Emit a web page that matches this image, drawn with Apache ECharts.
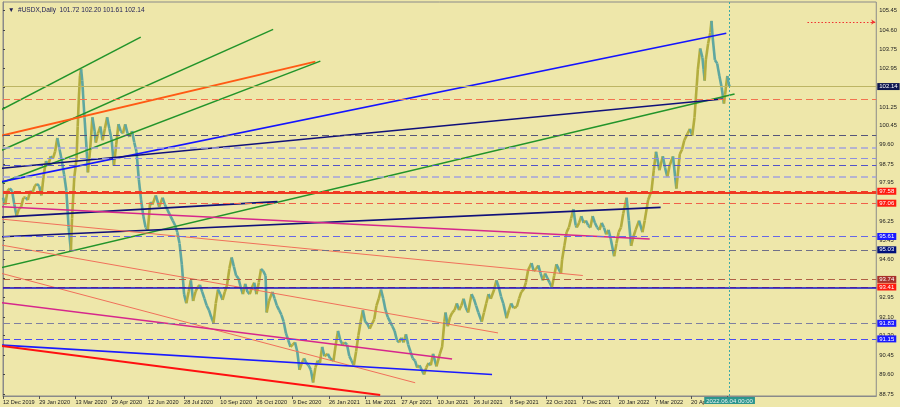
<!DOCTYPE html>
<html>
<head>
<meta charset="utf-8">
<script src="https://cdn.jsdelivr.net/npm/echarts@6/dist/echarts.min.js"></script>
<style>
  html, body { margin: 0; padding: 0; background: #eee7aa; }
  #chart { width: 900px; height: 407px; }
</style>
</head>
<body>
<div id="chart"></div>
<script>
// ---------------- DATA ----------------
const symbolName = '#USDX,Daily';
const headerOHLC = ['101.72', '102.20', '101.61', '102.14'];

// bar index (trading days from 12 Dec 2019) for each time label
const dateLabels = ['12 Dec 2019','29 Jan 2020','13 Mar 2020','29 Apr 2020','12 Jun 2020','28 Jul 2020',
  '10 Sep 2020','26 Oct 2020','9 Dec 2020','26 Jan 2021','11 Mar 2021','27 Apr 2021','10 Jun 2021',
  '26 Jul 2021','8 Sep 2021','22 Oct 2021','7 Dec 2021','20 Jan 2022','7 Mar 2022','20 Apr 2022'];
const barsPerLabel = 32;

const yTickLabels = ['88.75','89.60','90.45','91.30','92.10','92.95','93.80','94.60','95.45','96.25',
  '97.10','97.95','98.75','99.60','100.45','101.25','102.10','102.95','103.75','104.60','105.45'];

// price path: bar index and value
const priceIdx = [0,2,4,6,8,10,12,14,16,18,20,22,24,26,28,30,32,34,36,38,40,42,44,46,48,50,52,54,56,58,60,61,63,65,66,67,68,69,70,71,72,74,75,77,79,81,82,84,86,88,90,92,94,96,98,100,102,104,106,108,110,112,114,116,118,120,122,124,126,128,130,132,135,138,141,143,145,148,150,152,154,156,158,160,162,164,166,168,170,172,174,176,178,180,182,184,186,188,190,192,194,196,198,200,202,204,206,208,210,212,214,216,218,220,222,224,226,228,230,232,233,235,238,240,242,244,246,248,250,252,254,256,258,260,262,264,266,268,270,272,274,276,278,280,282,284,287,289,292,294,296,298,300,302,304,306,308,310,312,314,316,318,320,322,324,326,328,330,332,334,336,338,340,342,344,346,348,350,352,354,356,358,360,362,364,366,368,370,372,374,376,378,380,383,386,388,390,391,393,395,397,399,401,403,405,407,409,411,414,416,418,420,423,425,427,429,431,434,436,438,440,442,445,447,449,451,454,456,458,460,462,464,467,469,471,473,475,477,479,481,483,485,487,489,491,493,494,496,498,500,502,504,506,507,509,511,513,515,517,519,521,523,525,527,529,531,533,535,537,539,540,542,544,546,548,551,553,555,557,559,562,565,567,570,573,575,577,580,583,585,587,589,592,595,598,600,602,605,607,609,611,612,613,614,616,618,619,620,621,623,625,626,627,629,631,633,635,637,638,640,641,642];
const priceVal = [97.3,97.0,97.6,97.7,97.6,97.0,96.5,96.8,96.9,97.3,97.3,97.2,97.6,97.5,97.8,97.9,97.8,97.4,98.3,98.9,98.7,99.1,99.0,99.3,99.9,99.4,98.9,98.3,97.6,96.0,95.0,96.4,98.2,99.0,100.4,101.6,102.6,102.9,102.4,101.6,100.8,99.3,98.4,99.4,100.8,100.2,99.7,100.1,100.4,99.8,100.3,100.8,100.3,99.8,98.7,99.6,100.5,100.2,100.1,100.5,100.1,99.95,100.2,99.7,99.3,98.1,97.2,96.5,96.0,95.9,97.1,97.0,97.4,96.9,97.3,97.0,96.8,96.5,96.3,96.1,95.8,95.3,94.4,93.1,92.7,93.2,93.7,92.8,93.2,93.4,93.5,93.2,92.9,92.6,92.4,92.1,91.85,92.7,93.3,93.1,92.85,93.2,93.5,94.2,94.7,94.3,93.9,93.8,93.4,93.1,93.55,93.2,93.1,93.4,93.6,93.1,93.6,94.2,94.1,93.9,92.3,92.8,93.2,92.9,92.6,92.4,92.2,91.9,91.4,91.1,90.8,90.9,91.0,90.6,89.8,90.1,90.3,90.1,90.0,89.8,89.25,89.9,90.2,90.1,90.8,90.4,90.5,90.3,90.2,90.9,91.5,91.1,90.9,91.0,90.9,90.4,90.2,90.0,90.6,91.3,91.9,92.4,91.9,91.8,91.6,91.8,92.0,92.6,92.9,93.3,92.9,92.4,92.1,91.9,91.7,91.5,91.1,91.0,91.2,91.0,91.35,90.9,90.6,90.3,90.2,89.9,90.0,89.8,89.6,89.9,90.1,90.0,90.5,89.95,90.5,90.8,91.9,92.3,91.7,92.1,92.3,92.4,92.7,92.4,92.6,92.9,92.5,92.3,93.1,92.9,92.6,92.3,91.9,92.3,92.7,93.1,92.9,93.3,93.7,93.4,93.0,92.7,92.05,92.4,92.7,92.5,92.55,92.9,93.2,93.3,93.6,94.15,94.45,94.1,94.2,94.35,94.0,93.7,94.0,93.8,93.6,93.4,93.9,94.4,94.2,94.0,94.6,95.2,95.8,96.0,96.4,96.8,96.1,96.0,96.2,96.5,96.2,96.3,96.1,96.0,96.5,96.2,96.0,95.9,96.2,96.0,95.7,95.9,95.5,95.0,94.75,95.3,95.8,96.0,96.6,97.3,96.3,95.2,95.6,95.9,96.3,95.8,96.3,97.2,97.6,98.5,99.3,98.5,99.1,98.6,98.2,98.7,99.1,97.7,99.2,99.4,99.8,100.1,100.3,100.0,100.8,101.5,102.2,102.9,103.8,103.4,102.9,102.4,103.3,104.0,104.5,105.0,104.3,103.3,103.15,102.6,102.1,101.4,101.8,102.6,102.3,102.14];

// horizontal price levels
const levelValues = [102.14, 101.60, 100.01, 99.48, 99.02, 98.72, 98.21, 97.58, 97.50, 97.06, 95.61, 95.03, 93.74, 93.41, 93.36, 91.83, 91.15];
const levelLabels = ['102.14','','','','','','','97.58','','97.06','95.61','95.03','93.74','93.41','','91.83','91.15'];

// trend lines: [barIndex, price] endpoints
const trendNames = ['greenA','greenB','orange','greenC','greenD','blueBright','navyLong','navyF','navyE','magentaG','salmonH','salmonI','salmonJ','magentaK','blueL','redM'];
const trendFrom = [[-1.8,101.12],[-1.8,99.35],[-1.8,100.0],[-1.8,97.94],[-1.8,94.25],[-1.8,97.99],[-1.8,98.58],[-1.8,96.45],[-1.8,95.60],[-1.8,96.91],[-1.8,96.37],[-1.8,95.24],[-1.8,94.01],[-1.8,92.73],[-1.8,90.88],[-1.8,90.85]];
const trendTo = [[121.7,104.29],[238.7,104.63],[276.0,103.23],[280.4,103.25],[646.4,101.82],[639.1,104.46],[635.8,101.60],[242.5,97.13],[581.1,96.88],[571.4,95.50],[512.3,93.91],[437.4,91.41],[364.2,89.24],[396.8,90.27],[432.1,89.60],[333.3,88.71]];

const alertLevel = 104.95;
const alertFromIdx = 710.8;
const alertToIdx = 770.7;
const cursorIdx = 642;
const cursorLabel = '2022.06.04 00:00';

// ---------------- STYLE ----------------
const FONT = "'Liberation Sans', Arial, sans-serif";
const BG = '#eee7aa';
const UP = '#b3ad3e';
const DOWN = '#5fa7a0';
const DASH = [7, 4];

const levelStyles = [
  {color:'#bdb563', type:'solid', width:1.2, bg:'#0d1650'},
  {color:'#f2734f', type:DASH, width:1},
  {color:'#55557a', type:DASH, width:1},
  {color:'#a3a3dd', type:DASH, width:1.6},
  {color:'#8c8ee0', type:DASH, width:1.2},
  {color:'#5252c8', type:DASH, width:1},
  {color:'#a3a3dd', type:DASH, width:1.6},
  {color:'#f03a2a', type:DASH, width:1, bg:'#ff1a10'},
  {color:'#f03a20', type:'solid', width:2},
  {color:'#f0604a', type:DASH, width:1, bg:'#ff1a10'},
  {color:'#6767e6', type:DASH, width:1, bg:'#1a1aff'},
  {color:'#707088', type:DASH, width:1, bg:'#00107a'},
  {color:'#b06045', type:DASH, width:1, bg:'#a8302a'},
  {color:'#f04030', type:DASH, width:1, bg:'#ff1a10'},
  {color:'#1515c8', type:'solid', width:1.5},
  {color:'#7f7fa0', type:DASH, width:1, bg:'#1a1aff'},
  {color:'#4c4cf0', type:DASH, width:1, bg:'#1a1aff'}
];

const trendStyles = {
  greenA:{color:'#22942a', width:1.5}, greenB:{color:'#22942a', width:1.5},
  orange:{color:'#ff5a14', width:1.8}, greenC:{color:'#22942a', width:1.5},
  greenD:{color:'#22942a', width:1.5}, blueBright:{color:'#1414ff', width:1.6},
  navyLong:{color:'#10107a', width:1.6}, navyF:{color:'#10107a', width:1.6},
  navyE:{color:'#10107a', width:1.6}, magentaG:{color:'#d6268c', width:1.5},
  salmonH:{color:'#f0705a', width:1}, salmonI:{color:'#f0705a', width:1},
  salmonJ:{color:'#f0705a', width:1}, magentaK:{color:'#d6268c', width:1.5},
  blueL:{color:'#1a1aff', width:1.6}, redM:{color:'#ff1010', width:2}
};

// ---------------- BUILD ----------------
const xMax = (877 - 2) / 1.134;
const yMin = 88.663, yMax = 105.823;

const priceSegs = [];
for (let i = 1; i < priceIdx.length; i++) {
  const up = priceVal[i] >= priceVal[i - 1];
  priceSegs.push({
    coords: [[priceIdx[i - 1], priceVal[i - 1]], [priceIdx[i], priceVal[i]]],
    lineStyle: {color: up ? UP : DOWN}
  });
}

const levelData = levelValues.map((v, i) => {
  const s = levelStyles[i];
  const item = {yAxis: v, lineStyle: {color: s.color, type: s.type, width: s.width}};
  if (levelLabels[i]) {
    item.label = {show: true, position: 'end', formatter: levelLabels[i], color: '#ffffff',
      backgroundColor: s.bg, padding: [1, 2, 0, 2], fontSize: 6, fontFamily: FONT, distance: 1};
  } else {
    item.label = {show: false};
  }
  return item;
});

const trendSeries = trendNames.map((n, i) => ({
  type: 'line', name: n, data: [trendFrom[i], trendTo[i]], symbol: 'none',
  lineStyle: {color: trendStyles[n].color, width: trendStyles[n].width},
  z: 4, silent: true, clip: true
}));

const yTickValues = yTickLabels.map(Number);
const xTickValues = dateLabels.map((d, k) => k * barsPerLabel).concat([dateLabels.length * barsPerLabel]);
const xLabelValues = dateLabels.map((d, k) => k * barsPerLabel);

const option = {
  backgroundColor: BG,
  animation: false,
  title: {
    text: '\u25BC  ' + symbolName + '  ' + headerOHLC.join(' '),
    left: 3, top: 2,
    textStyle: {fontSize: 6.5, fontWeight: 'normal', color: '#1c1c55', fontFamily: FONT}
  },
  grid: {left: 2, right: 23, top: 2, bottom: 11, show: true, borderColor: '#8a8a8a', borderWidth: 1, backgroundColor: BG},
  xAxis: {
    type: 'value', min: 0, max: xMax, interval: barsPerLabel,
    splitLine: {show: false},
    axisLine: {show: true, lineStyle: {color: '#8a8a8a'}},
    axisTick: {show: true, length: 3, customValues: xTickValues, lineStyle: {color: '#555'}},
    axisLabel: {
      show: true, align: 'left', margin: 3, fontSize: 5.6, color: '#222', fontFamily: FONT,
      customValues: xLabelValues, hideOverlap: false,
      formatter: (v) => { const k = Math.round(v / barsPerLabel); return dateLabels[k] || ''; }
    }
  },
  yAxis: {
    type: 'value', position: 'right', min: yMin, max: yMax, scale: true,
    splitLine: {show: false},
    axisLine: {show: true, lineStyle: {color: '#8a8a8a'}},
    axisTick: {show: true, length: 2, customValues: yTickValues, lineStyle: {color: '#444'}},
    axisLabel: {
      show: true, margin: 3, fontSize: 5.8, color: '#222', fontFamily: FONT,
      customValues: yTickValues,
      formatter: (v) => { let best = ''; let d = 1e9; yTickLabels.forEach(t => { const dd = Math.abs(Number(t) - v); if (dd < d) { d = dd; best = t; } }); return best; }
    }
  },
  series: [
    {
      type: 'line', name: 'levels', data: [], symbol: 'none', z: 1, silent: true,
      markLine: {silent: true, symbol: ['none', 'none'], animation: false, data: levelData}
    },
    {
      type: 'lines', name: 'USDX', coordinateSystem: 'cartesian2d', polyline: false,
      data: priceSegs, lineStyle: {width: 2.6, opacity: 1}, z: 3, silent: true
    },
    ...trendSeries,
    {
      type: 'line', name: 'markers', data: [], symbol: 'none', z: 5, silent: true,
      markLine: {
        silent: true, animation: false, symbol: ['none', 'none'],
        data: [
          {xAxis: cursorIdx,
            lineStyle: {color: '#3ea9a6', type: [2, 2], width: 1},
            label: {show: true, position: 'start', formatter: cursorLabel, color: '#e8f4f0',
              backgroundColor: '#2c958d', padding: [1, 2, 0, 2], fontSize: 6, fontFamily: FONT, distance: 1}},
          [{coord: [alertFromIdx, alertLevel], symbol: 'none',
            lineStyle: {color: '#f03030', type: [1.5, 2], width: 1}, label: {show: false}},
           {coord: [alertToIdx, alertLevel], symbol: 'arrow', symbolSize: 4}]
        ]
      }
    }
  ]
};

const chart = echarts.init(document.getElementById('chart'), null, {renderer: 'canvas'});
chart.setOption(option);
</script>
</body>
</html>
